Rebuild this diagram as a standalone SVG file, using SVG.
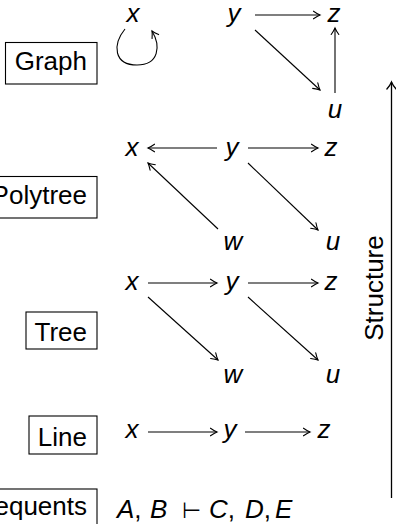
<svg xmlns="http://www.w3.org/2000/svg" width="396" height="524" viewBox="0 0 396 524">
  <style>
    .lbl { font-family: "Liberation Sans", "DejaVu Sans", sans-serif; font-size: 26px; fill: #000; }
    .box { fill: #fff; stroke: #000; stroke-width: 1.1; }
    .var { font-family: "Liberation Sans", "DejaVu Sans", sans-serif; font-size: 26px; font-style: italic; fill: #000; text-anchor: middle; }
    .it { font-style: italic; }
    .edge { fill: none; stroke: #000; stroke-width: 1.1; marker-end: url(#tip); }
  </style>
  <defs>
    <marker id="tip" viewBox="-8 -5 10 10" refX="0" refY="0" markerWidth="10" markerHeight="10" markerUnits="userSpaceOnUse" orient="auto">
      <path d="M-6.5,-3.8 Q-2.5,-1 0,0 Q-2.5,1 -6.5,3.8" fill="none" stroke="#000" stroke-width="1.1" stroke-linecap="round"/>
    </marker>
    <marker id="bigtip" viewBox="-8 -6 10 12" refX="0" refY="0" markerWidth="10" markerHeight="12" markerUnits="userSpaceOnUse" orient="auto">
      <path d="M-7,-4.6 Q-3,-1.2 0,0 Q-3,1.2 -7,4.6" fill="none" stroke="#000" stroke-width="1.3" stroke-linecap="round"/>
    </marker>
  </defs>

  <!-- category labels -->
  <g id="label-graph">
    <rect class="box" x="5.5" y="42.5" width="91.5" height="41.5"/>
    <text class="lbl" x="87" y="70" text-anchor="end">Graph</text>
  </g>
  <g id="label-polytree">
    <rect class="box" x="-10" y="176.5" width="107" height="41.5"/>
    <text class="lbl" x="87" y="204" text-anchor="end">Polytree</text>
  </g>
  <g id="label-tree">
    <rect class="box" x="26" y="312" width="71" height="37"/>
    <text class="lbl" x="87" y="341" text-anchor="end">Tree</text>
  </g>
  <g id="label-line">
    <rect class="box" x="29" y="416" width="68" height="38"/>
    <text class="lbl" x="87" y="446" text-anchor="end">Line</text>
  </g>
  <g id="label-sequents">
    <rect class="box" x="-30" y="489" width="127" height="42"/>
    <text class="lbl" x="87" y="515" text-anchor="end">Sequents</text>
  </g>

  <!-- graph row -->
  <g id="g-x"><text class="var" x="133" y="22">x</text></g>
  <g id="g-y"><text class="var" x="234" y="22">y</text></g>
  <g id="g-z"><text class="var" x="334" y="22">z</text></g>
  <g id="g-u"><text class="var" x="335" y="118">u</text></g>

  <!-- polytree row -->
  <g id="p-x"><text class="var" x="132" y="156">x</text></g>
  <g id="p-y"><text class="var" x="232" y="156">y</text></g>
  <g id="p-z"><text class="var" x="331" y="156">z</text></g>
  <g id="p-w"><text class="var" x="233" y="250">w</text></g>
  <g id="p-u"><text class="var" x="333" y="250">u</text></g>

  <!-- tree row -->
  <g id="t-x"><text class="var" x="132" y="290">x</text></g>
  <g id="t-y"><text class="var" x="232" y="290">y</text></g>
  <g id="t-z"><text class="var" x="331" y="290">z</text></g>
  <g id="t-w"><text class="var" x="233" y="383">w</text></g>
  <g id="t-u"><text class="var" x="333" y="383">u</text></g>

  <!-- line row -->
  <g id="l-x"><text class="var" x="132" y="438">x</text></g>
  <g id="l-y"><text class="var" x="230" y="438">y</text></g>
  <g id="l-z"><text class="var" x="324" y="438">z</text></g>

  <!-- sequent, with math spacing set by explicit positions -->
  <g id="sequent">
    <text class="lbl" y="518"><tspan class="it" x="117">A</tspan><tspan>,</tspan><tspan class="it" x="150">B</tspan><tspan x="182" font-family="DejaVu Sans, sans-serif" font-size="22">⊢</tspan><tspan class="it" x="209">C</tspan><tspan>,</tspan><tspan class="it" x="245">D</tspan><tspan>,</tspan><tspan class="it" x="275">E</tspan></text>
  </g>

  <!-- structure axis -->
  <g id="structure">
    <text class="lbl" transform="translate(383,288) rotate(-90)" text-anchor="middle">Structure</text>
  </g>

  <g id="connectors">
    <!-- graph -->
    <path class="edge" d="M125,29 C112,45 114,65 137,65 C159,65 161,46 152,31"/>
    <path class="edge" d="M255,15 L320,15"/>
    <path class="edge" d="M255,30 L320,90"/>
    <path class="edge" d="M335,93 L335,28"/>
    <!-- polytree -->
    <path class="edge" d="M217,148 L148,148"/>
    <path class="edge" d="M248,148 L318,148"/>
    <path class="edge" d="M248,163 L318,230"/>
    <path class="edge" d="M218,229 L148,163"/>
    <!-- tree -->
    <path class="edge" d="M148,283 L217,283"/>
    <path class="edge" d="M248,283 L318,283"/>
    <path class="edge" d="M148,297 L218,360"/>
    <path class="edge" d="M248,297 L318,360"/>
    <!-- line -->
    <path class="edge" d="M148,432 L217,432"/>
    <path class="edge" d="M245,432 L310,432"/>
    <!-- structure axis -->
    <path d="M391.5,498 L391.5,82" fill="none" stroke="#000" stroke-width="1.3" marker-end="url(#bigtip)"/>
  </g>
</svg>
